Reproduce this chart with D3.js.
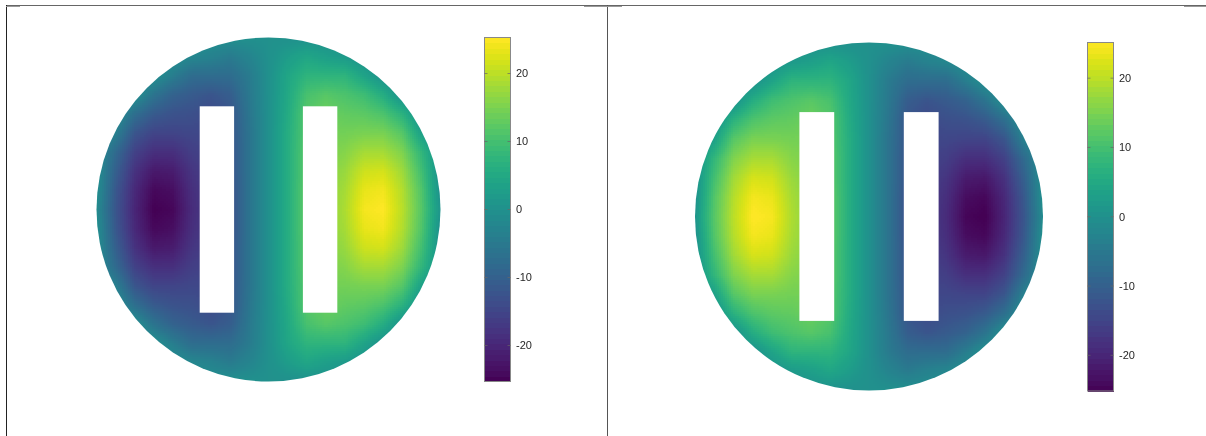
<!DOCTYPE html>
<html><head><meta charset="utf-8">
<script src="https://cdn.jsdelivr.net/npm/d3@7"></script>
<style>html,body{margin:0;padding:0;background:#fff;overflow:hidden}svg{display:block}text{font-family:"Liberation Sans",Arial,sans-serif;font-size:11px;fill:#262626}.lab{filter:grayscale(1)}</style>
</head><body><svg id="c" width="1206" height="436"></svg>
<script>
// Grid coordinates (unit disc), right half of each row; rows run from centre outwards
const gridX = [0,0.111,0.222,0.333,0.444,0.556,0.667,0.778,0.889,1];
const gridY = [0,0.111,0.222,0.333,0.444,0.556,0.667,0.778,0.889,1];
const row0 = [0,6,13,16,19,24.5,25.3,20,12,1];
const row1 = [0,6,13,16,18.5,23.5,24.3,19.5,11.5,0];
const row2 = [0,6,12.5,15.5,17.5,21.5,22,18,10,0];
const row3 = [0,6,12.5,15,16,18.5,18.5,15.5,8,0];
const row4 = [0,6,12,14.5,14.5,15,15,12,3.5,0];
const row5 = [0,5.5,12,14,13,12.5,11,7,0,0];
const row6 = [0,5,10.5,12,11,9.5,6,0,0,0];
const row7 = [0,4.5,7.5,7.5,7.5,4,0,0,0,0];
const row8 = [0,2.5,4.5,3,2,0,0,0,0,0];
const row9 = [0,0,0,0,0,0,0,0,0,0];
const rows = [row0,row1,row2,row3,row4,row5,row6,row7,row8,row9];
const slotsX = [[-0.4,-0.2],[0.2,0.4]];
const slotY = [-0.6,0.6];
const barTicks = [-20,-10,0,10,20];
const colorLevels = 64;
const panels = [
 {sign:1, xr:[96.5,440.5], yr:[381.5,37.5], bar:[484.5,510.5], barY:[381.5,37.5], lim:25.3},
 {sign:-1,xr:[695,1043], yr:[390.5,42.5], bar:[1087.5,1113.5], barY:[391,42.5], lim:25.15}
];
const frame = [
 {x1:6.5,y1:5.5,x2:607,y2:5.5,c:"#666"},
 {x1:6.5,y1:5,x2:6.5,y2:436,c:"#222"},
 {x1:607,y1:5.5,x2:1206,y2:5.5,c:"#666"},
 {x1:607.5,y1:5,x2:607.5,y2:436,c:"#555"}
];
const stubs = [[6,20],[584,622],[1184,1206]];

const svg = d3.select("#c");
const gi = d3.scaleLinear().domain(gridX).range(gridX.map((_,i)=>i));
const gj = d3.scaleLinear().domain(gridY).range(gridY.map((_,i)=>i));
function field(x,y){
  const ax=Math.abs(x), ay=Math.abs(y);
  const fi=Math.min(gi(ax),gridX.length-1.001), fj=Math.min(gj(ay),gridY.length-1.001);
  const i=Math.floor(fi), j=Math.floor(fj), u=fi-i, v=fj-j;
  const z=(1-v)*((1-u)*rows[j][i]+u*rows[j][i+1])+v*((1-u)*rows[j+1][i]+u*rows[j+1][i+1]);
  return x<0?-z:z;
}
panels.forEach((p,k)=>{
  const X=d3.scaleLinear().domain([-1,1]).range(p.xr);
  const Y=d3.scaleLinear().domain([-1,1]).range(p.yr);
  const C=d3.scaleSequential(d3.interpolateViridis).domain([-p.lim,p.lim]);
  const cells=[]; const step=2;
  for(let px=Math.floor(p.xr[0]);px<p.xr[1];px+=step) for(let py=Math.floor(p.yr[1]);py<p.yr[0];py+=step){
    const x=X.invert(px+1), y=Y.invert(py+1);
    if(x*x+y*y>1.04) continue;
    cells.push({px,py,v:p.sign*field(x,y)});
  }
  svg.append("clipPath").attr("id","disc"+k).append("circle")
    .attr("cx",X(0)).attr("cy",Y(0)).attr("r",(p.xr[1]-p.xr[0])/2);
  svg.append("g").attr("clip-path",`url(#disc${k})`).attr("shape-rendering","crispEdges")
    .selectAll("rect").data(cells).join("rect")
    .attr("x",d=>d.px).attr("y",d=>d.py).attr("width",step).attr("height",step).attr("fill",d=>C(d.v));
  svg.append("g").selectAll("rect").data(slotsX).join("rect")
    .attr("x",d=>X(d[0])).attr("width",d=>X(d[1])-X(d[0]))
    .attr("y",Y(slotY[1])).attr("height",Y(slotY[0])-Y(slotY[1])).attr("fill","#fff");
  // colour bar
  const B=d3.scaleLinear().domain([-p.lim,p.lim]).range(p.barY);
  const bands=d3.range(colorLevels);
  const dv=2*p.lim/colorLevels;
  svg.append("g").attr("shape-rendering","crispEdges").selectAll("rect").data(bands).join("rect")
    .attr("x",p.bar[0]).attr("width",p.bar[1]-p.bar[0])
    .attr("y",i=>B(-p.lim+(i+1)*dv)).attr("height",i=>B(-p.lim+i*dv)-B(-p.lim+(i+1)*dv)+0.5)
    .attr("fill",i=>C(-p.lim+(i+0.5)*dv));
  svg.append("rect").attr("x",p.bar[0]).attr("y",p.barY[1]).attr("width",p.bar[1]-p.bar[0]).attr("height",p.barY[0]-p.barY[1])
    .attr("fill","none").attr("stroke","#888").attr("stroke-width",1);
  const ag=svg.append("g").attr("class","lab");
  const t=ag.selectAll("g").data(barTicks).join("g").attr("transform",d=>`translate(0,${B(d)})`);
  t.append("line").attr("x1",p.bar[0]).attr("x2",p.bar[0]+3).attr("stroke","#666").attr("stroke-opacity",.7);
  t.append("line").attr("x1",p.bar[1]-3).attr("x2",p.bar[1]).attr("stroke","#666").attr("stroke-opacity",.7);
  t.append("text").attr("x",p.bar[1]+5.5).attr("dy","0.35em").text(d=>d);
});
svg.append("g").selectAll("line").data(frame).join("line")
  .attr("x1",d=>d.x1).attr("y1",d=>d.y1).attr("x2",d=>d.x2).attr("y2",d=>d.y2).attr("stroke",d=>d.c);
svg.append("g").selectAll("line.s").data(stubs).join("line")
  .attr("x1",d=>d[0]).attr("x2",d=>d[1]).attr("y1",6.5).attr("y2",6.5).attr("stroke","#999");
</script></body></html>
